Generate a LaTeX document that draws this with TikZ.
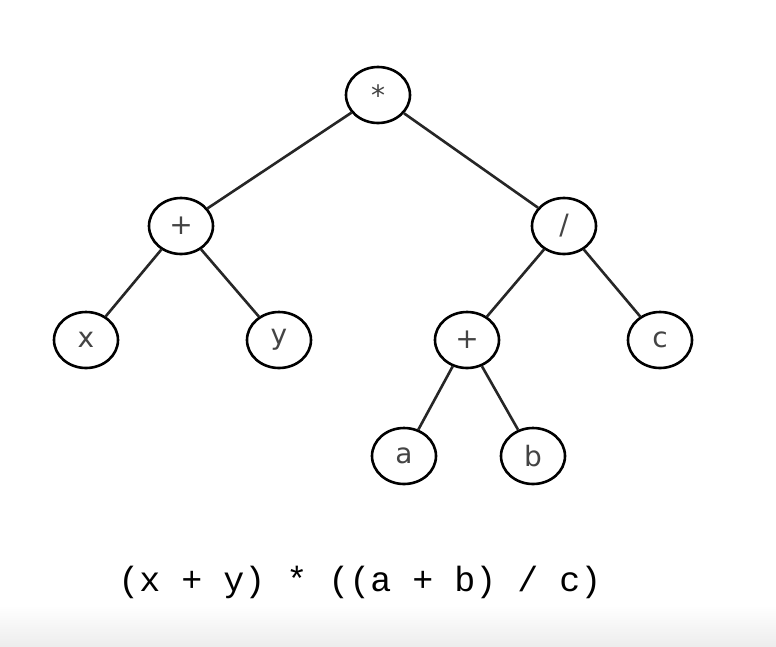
\documentclass[tikz,border=0pt]{standalone}
\usepackage{fontspec}
\setmonofont{Liberation Mono}
\newfontfamily\lblfont{DejaVu Sans}
\usetikzlibrary{shapes.geometric}
\definecolor{lblgray}{HTML}{444444}
\definecolor{bandgray}{HTML}{EDEDED}
\tikzset{
  tnode/.style={ellipse, draw=black, line width=2.6pt, fill=white, minimum width=64pt, minimum height=56pt, inner sep=0pt, font=\lblfont\fontsize{28}{30}\selectfont, text=lblgray},
  tedge/.style={draw=black!85, line width=2.6pt}
}
\begin{document}
\begin{tikzpicture}[x=1pt,y=-1pt]
\useasboundingbox (0,0) rectangle (776,646);
\fill[white] (0,0) rectangle (776,646);
\shade[top color=white, bottom color=bandgray] (0,605) rectangle (776,646);
\node[tnode] (mul) at (378,95) {*};
\node[tnode] (p1) at (181,226) {+};
\node[tnode] (div) at (564,226) {/};
\node[tnode] (x) at (86,340) {x};
\node[tnode] (y) at (279,340) {y};
\node[tnode] (p2) at (467,340) {+};
\node[tnode] (c) at (660,340) {c};
\node[tnode] (a) at (404,456) {a};
\node[tnode] (b) at (533,456) {b};
\draw[tedge] (mul) -- (p1);
\draw[tedge] (mul) -- (div);
\draw[tedge] (p1) -- (x);
\draw[tedge] (p1) -- (y);
\draw[tedge] (div) -- (p2);
\draw[tedge] (div) -- (c);
\draw[tedge] (p2) -- (a);
\draw[tedge] (p2) -- (b);
\node[font=\ttfamily\fontsize{35}{38}\selectfont, inner sep=0pt] (expr) at (360,582) {(x + y) * ((a + b) / c)};
\end{tikzpicture}
\end{document}
